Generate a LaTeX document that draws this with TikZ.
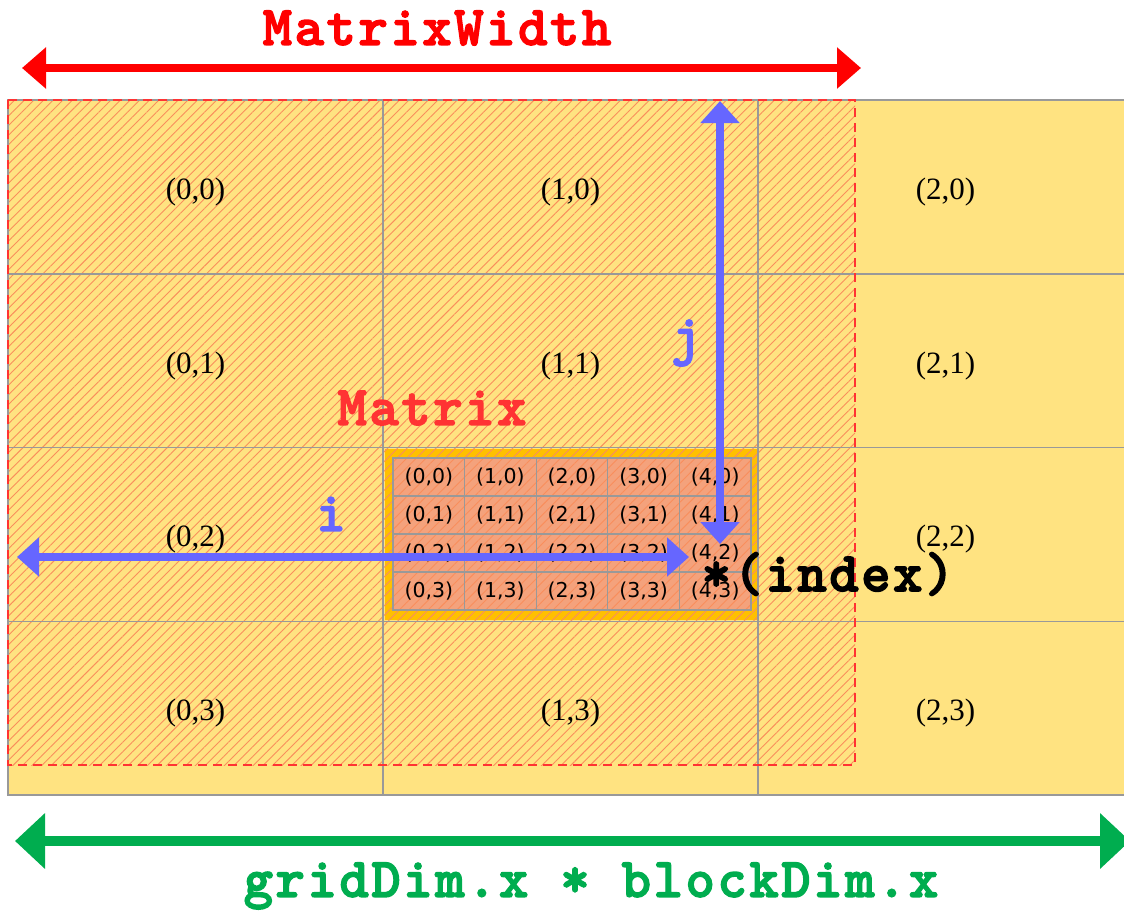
\documentclass[tikz,border=0pt]{standalone}
\usepackage{fontspec}
\setmainfont{Liberation Serif}
\newfontfamily\monob{lmmonolt10-bold}[Extension=.otf, LetterSpace=4.5, FakeBold=2.5]
\newfontfamily\djv{DejaVu Sans}
\usetikzlibrary{arrows.meta,patterns.meta}
\definecolor{cellyel}{HTML}{FFE381}
\definecolor{gridgray}{HTML}{999999}
\definecolor{borderorange}{HTML}{FFC000}
\definecolor{salmon}{HTML}{F4A27C}
\definecolor{hatchcol}{HTML}{F98E5C}
\definecolor{redc}{HTML}{FF0000}
\definecolor{redtxt}{HTML}{FF3333}
\definecolor{bluec}{HTML}{6666FF}
\definecolor{greenc}{HTML}{00AD4F}
\tikzset{
  bigcell/.style={draw=gridgray, line width=1.5pt, fill=cellyel, minimum width=375pt, minimum height=173.75pt, inner sep=0pt, outer sep=0pt},
  smallcell/.style={draw=gridgray, line width=1.2pt, fill=salmon, minimum width=71.6pt, minimum height=38pt, inner sep=0pt, outer sep=0pt},
  gridline/.style={draw=gridgray, line width=1.5pt},
  sgridline/.style={draw=gridgray, line width=1.2pt},
  obox/.style={fill=borderorange, minimum width=372pt, minimum height=171pt, inner sep=0pt, outer sep=0pt},
  biglbl/.style={font=\fontsize{31}{31}\selectfont, inner sep=0pt},
  smalllbl/.style={font=\djv\fontsize{20.5}{20.5}\selectfont, inner sep=0pt},
  codelbl/.style={font=\monob\fontsize{56}{56}\selectfont, inner sep=0pt},
  bluearrow/.style={draw=bluec, line width=8pt, {Triangle[length=22pt,width=38pt]}-{Triangle[length=22pt,width=38pt]}},
  redarrow/.style={draw=redc, line width=8pt, {Triangle[length=24pt,width=40pt]}-{Triangle[length=24pt,width=40pt]}},
  greenarrow/.style={draw=greenc, line width=10pt, {Triangle[length=30pt,width=54pt]}-{Triangle[length=30pt,width=54pt]}},
}
\begin{document}
\begin{tikzpicture}[x=1pt,y=-1pt]
\useasboundingbox (0,0) rectangle (1124,913);
% big grid cells
\foreach \c in {0,1,2}{
  \foreach \r in {0,1,2,3}{
    \node[bigcell] (b\c\r) at ({8+375*\c+187.5},{100+173.75*\r+86.875}) {};
  }
}
% small matrix block
\node[obox] (mbox) at (571,534.5) {};
\foreach \c in {0,...,4}{
  \foreach \r in {0,...,3}{
    \node[smallcell] (s\c\r) at ({393+71.6*\c+35.8},{458+38*\r+19}) {};
  }
}
% hatched matrix area
\fill[pattern={Lines[angle=45,distance=6.8pt,line width=0.9pt]}, pattern color=hatchcol] (8,100) rectangle (855,765);
% grid lines redrawn above the hatching
\foreach \c in {0,1,2}{
  \foreach \r in {0,1,2,3}{
    \draw[gridline] (b\c\r.north west) rectangle (b\c\r.south east);
  }
}
\foreach \c in {0,...,4}{
  \foreach \r in {0,...,3}{
    \draw[sgridline] (s\c\r.north west) rectangle (s\c\r.south east);
  }
}
\draw[redtxt, line width=1.5pt, dash pattern=on 9pt off 6pt] (8,100) rectangle (855,765);
% big cell labels (cell (1,2) is covered by the matrix block)
\foreach \c/\r in {0/0,1/0,2/0,0/1,1/1,2/1,0/2,2/2,0/3,1/3,2/3}{
  \node[biglbl] (t\c\r) at ({8+375*\c+187.5},{100+173.75*\r+92}) {(\c,\r)};
}
% small cell labels
\foreach \c in {0,...,4}{
  \foreach \r in {0,...,3}{
    \node[smalllbl] (u\c\r) at (s\c\r) {(\c,\r)};
  }
}
% labels
\node[codelbl, text=redtxt] (matlbl) at (432,408) {Matrix};
\node[codelbl, text=redc] (mwlbl) at (437,28) {MatrixWidth};
\node[codelbl, text=bluec] (jlbl) at (686,343) {j};
\node[codelbl, text=bluec] (ilbl) at (331,514) {i};
\node[codelbl, text=black] (idxlbl) at (828,574) {*(index)};
\node[codelbl, text=greenc] (gridlbl) at (591,886) {gridDim.x * blockDim.x};
% arrows
\coordinate (jtop) at (720,101);
\coordinate (jbot) at (720,544);
\coordinate (ileft) at (17,557);
\coordinate (iright) at (689,557);
\coordinate (mwl) at (22,68);
\coordinate (mwr) at (861,68);
\coordinate (gl) at (15,841);
\coordinate (gr) at (1130,841);
\draw[bluearrow] (jbot) -- (jtop);
\draw[bluearrow] (ileft) -- (iright);
\draw[redarrow] (mwl) -- (mwr);
\draw[greenarrow] (gl) -- (gr);
\end{tikzpicture}
\end{document}
